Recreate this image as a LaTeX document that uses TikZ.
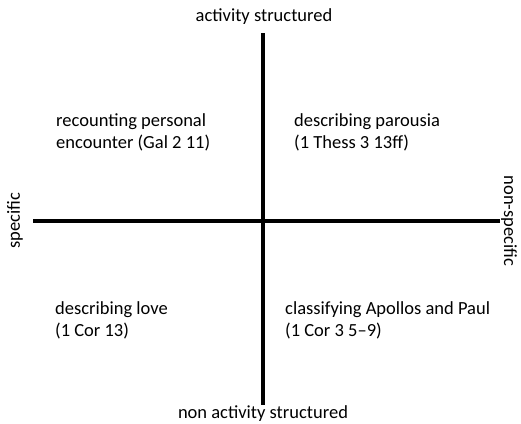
\documentclass[tikz,border=0pt]{standalone}
\usepackage{fontspec}
\setmainfont{Carlito}
\begin{document}
\begin{tikzpicture}[x=1pt,y=-1pt,
  axis/.style={line width=3.2pt},
  lbl/.style={font=\fontsize{18.5}{22}\selectfont, inner sep=0pt},
  quad/.style={font=\fontsize{18.5}{22}\selectfont, inner sep=0pt, align=left, anchor=west}]
\useasboundingbox (0,0) rectangle (521,423);
\coordinate (top) at (263,33);
\coordinate (bot) at (263,405);
\coordinate (left) at (33,221);
\coordinate (right) at (500,221);
\draw[axis] (top) -- (bot);
\draw[axis] (left) -- (right);
\node[lbl] (at) at (264,17) {activity structured};
\node[lbl] (nat) at (263,414) {non activity structured};
\node[lbl, rotate=90] (sp) at (15,221) {specific};
\node[lbl, rotate=-90] (nsp) at (509,221) {non-specific};
\node[quad] (q1) at (56,132) {recounting personal\\encounter (Gal 2 11)};
\node[quad] (q2) at (294,132) {describing parousia\\(1 Thess 3 13ff)};
\node[quad] (q3) at (55,320) {describing love\\(1 Cor 13)};
\node[quad] (q4) at (285,320) {classifying Apollos and Paul\\(1 Cor 3 5--9)};
\end{tikzpicture}
\end{document}
